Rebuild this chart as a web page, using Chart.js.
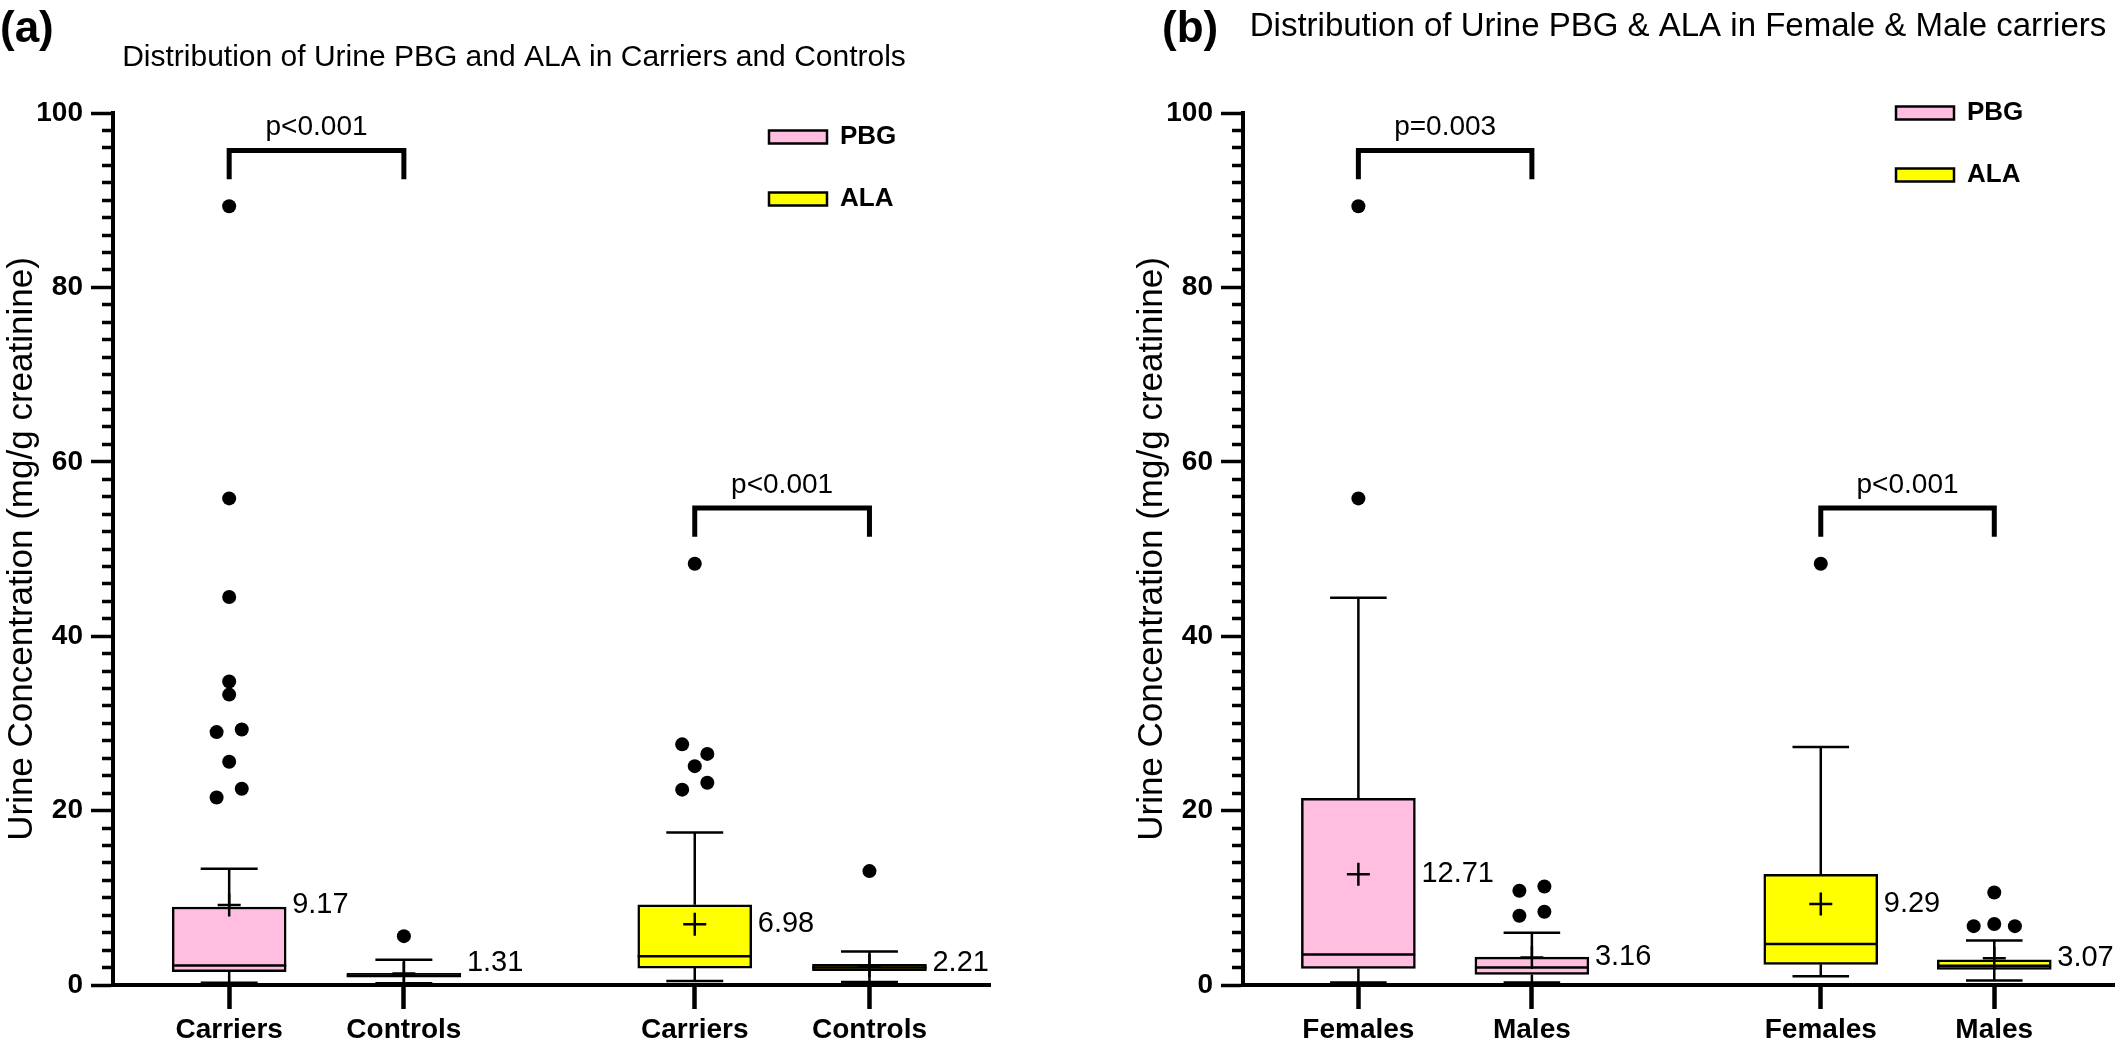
<!DOCTYPE html>
<html><head><meta charset="utf-8">
<script src="https://cdn.jsdelivr.net/npm/chart.js@4.4.1/dist/chart.umd.min.js"></script>
<style>
html,body{margin:0;padding:0;background:#fff;width:2128px;height:1048px;overflow:hidden}
canvas{position:absolute;top:0}
#ca{left:0}
#cb{left:1130px}
</style></head><body>
<canvas id="ca" width="1130" height="1048"></canvas>
<canvas id="cb" width="998" height="1048"></canvas>
<script>
// ---------------- DATA ----------------
const catsA = ['Carriers', 'Controls', 'Carriers', 'Controls'];
const catsB = ['Females', 'Males', 'Females', 'Males'];
const seriesNames = ['PBG', 'ALA'];

// five-number summaries: [min, q1, median, q3, max]
const A_PBG_five = [[0.27, 1.53, 2.25, 8.94, 13.34], [0.2, 0.9, 1.1, 1.35, 2.9]];
const A_PBG_mean = [9.17, 1.31];
const A_PBG_out  = [[89.3, 55.8, 44.5, 34.8, 33.3, 29.3, 29.0, 25.6, 22.5, 21.5], [5.6]];
const A_ALA_five = [[0.47, 1.94, 3.29, 9.19, 17.5], [0.35, 1.63, 2.0, 2.36, 3.84]];
const A_ALA_mean = [6.98, 2.21];
const A_ALA_out  = [[48.3, 27.6, 26.5, 25.1, 23.2, 22.4], [13.06]];
const A_pvals    = ['p<0.001', 'p<0.001'];

const B_PBG_five = [[0.28, 1.9, 3.5, 21.4, 44.4], [0.28, 1.2, 2.0, 3.2, 6.0]];
const B_PBG_mean = [12.71, 3.16];
const B_PBG_out  = [[89.3, 55.8], [11.3, 10.8, 8.4, 7.95]];
const B_ALA_five = [[1.0, 2.37, 4.7, 12.7, 27.3], [0.52, 1.8, 2.2, 2.9, 5.1]];
const B_ALA_mean = [9.29, 3.07];
const B_ALA_out  = [[48.3], [10.6, 7.0, 6.75, 6.75]];
const B_pvals    = ['p=0.003', 'p<0.001'];

const Y_MIN = 0, Y_MAX = 100, Y_MAJOR = 20, Y_MINOR = 2;

// ---------------- LAYOUT / STYLE ----------------
const FONT = "'Liberation Sans', Arial, Helvetica, sans-serif";
const SLOT = [1, 2, 3.665, 4.665];     // x positions of the four boxes
const X_MIN = 0.335, X_MAX = 5.355;
const BOX_PX = 114;                    // box width in px
const BOX_HALF = 0.327;                // box half width, x units
const CAP_HALF = 0.163;                // whisker cap half width, x units
const SPREAD = 0.072;                  // outlier side spread, x units
const CLUSTER_GAP = 1.5;
const BRACKET_GAP = 6.4, BRACKET_LEG = 3.3;
const COLORS = {PBG: '#FFBEDF', ALA: '#FFFF00'};

function offs(c) {
  if (c.length === 1) return [0];
  if (c.length === 2) return [1, -1];
  if (c.length === 3) return (c[0] - c[2] < 0.6) ? [0, -1.65, 1.65] : [-1, 1, 0];
  return c.map((_, k) => (k % 2 ? 1 : -1) * Math.ceil((k + 1) / 2));
}
function outlierPoints(x, vals) {
  const s = vals.slice().sort((a, b) => b - a); const pts = []; let i = 0;
  while (i < s.length) {
    let j = i + 1;
    while (j < s.length && s[j - 1] - s[j] < CLUSTER_GAP) j++;
    const c = s.slice(i, j);
    offs(c).forEach((o, k) => pts.push({x: x + o * SPREAD, y: c[k]}));
    i = j;
  }
  return pts;
}

function seriesDatasets(name, slots, five, mean, out) {
  const xs = slots.map(k => SLOT[k]);
  const ds = [];
  ds.push({type: 'bar', label: name, inLegend: true, means: mean, order: 3,
    data: xs.map((x, i) => ({x: x, y: [five[i][1], five[i][3]]})),
    backgroundColor: COLORS[name], borderColor: '#000', borderWidth: 2.5, borderSkipped: false,
    barThickness: BOX_PX, grouped: false});
  const line = {type: 'line', order: 1, borderColor: '#000', borderWidth: 2.5, pointRadius: 0, spanGaps: false, fill: false};
  ds.push(Object.assign({}, line, {label: name + ' whiskers',
    data: xs.flatMap((x, i) => [{x, y: five[i][4]}, {x, y: five[i][3]}, {x, y: null}, {x, y: five[i][1]}, {x, y: five[i][0]}, {x, y: null}])}));
  ds.push(Object.assign({}, line, {label: name + ' caps',
    data: xs.flatMap((x, i) => [{x: x - CAP_HALF, y: five[i][4]}, {x: x + CAP_HALF, y: five[i][4]}, {x, y: null},
                                {x: x - CAP_HALF, y: five[i][0]}, {x: x + CAP_HALF, y: five[i][0]}, {x, y: null}])}));
  ds.push(Object.assign({}, line, {label: name + ' median',
    data: xs.flatMap((x, i) => [{x: x - BOX_HALF, y: five[i][2]}, {x: x + BOX_HALF, y: five[i][2]}, {x, y: null}])}));
  ds.push({type: 'scatter', label: name + ' mean', order: 1, pointStyle: 'cross', pointRadius: 11.5,
    borderColor: '#000', borderWidth: 2.5, data: xs.map((x, i) => ({x, y: mean[i]}))});
  ds.push({type: 'scatter', label: name + ' outliers', order: 0, pointRadius: 7, backgroundColor: '#000',
    borderWidth: 0, data: xs.flatMap((x, i) => outlierPoints(x, out[i]))});
  return ds;
}
function bracket(slots, fives, outs, p) {
  const vals = [];
  slots.forEach((k, i) => { vals.push(fives[i][4]); outs[i].forEach(v => vals.push(v)); });
  const top = Math.max(...vals) + BRACKET_GAP, leg = top - BRACKET_LEG;
  const a = SLOT[slots[0]], b = SLOT[slots[1]];
  return {type: 'line', label: 'bracket', order: 0, pText: p, borderColor: '#000', borderWidth: 5,
    pointRadius: 0, borderJoinStyle: 'miter', borderCapStyle: 'butt',
    data: [{x: a, y: leg}, {x: a, y: top}, {x: b, y: top}, {x: b, y: leg}]};
}

const annot = {
  id: 'annot',
  afterLayout(chart, args, o) {
    const lg = chart.legend; if (!lg) return;
    const pad = lg.options.labels.padding, fs = lg.options.labels.font.size;
    const w = lg.width, h = lg.height;
    lg.left = o.legendX - pad; lg.right = lg.left + w;
    lg.top = o.legendY - pad - fs / 2; lg.bottom = lg.top + h;
  },
  afterDraw(chart, args, o) {
    const ctx = chart.ctx, xs = chart.scales.x, ys = chart.scales.y, ca = chart.chartArea;
    ctx.save();
    ctx.fillStyle = '#000';
    // panel letter
    ctx.font = 'bold 44px ' + FONT; ctx.textAlign = 'left'; ctx.textBaseline = 'middle';
    ctx.fillText(o.letter, o.letterX, o.letterY);
    // title
    ctx.font = o.titleSize + 'px ' + FONT; ctx.textAlign = 'center';
    ctx.fillText(o.title, o.titleX, o.titleY);
    // mean labels
    ctx.font = '29px ' + FONT; ctx.textAlign = 'left'; ctx.textBaseline = 'middle';
    chart.data.datasets.forEach((d, di) => {
      if (!d.inLegend) return;
      const meta = chart.getDatasetMeta(di);
      meta.data.forEach((el, j) => {
        const y = Math.min(ys.getPixelForValue(d.means[j]), ca.bottom - 22);
        ctx.fillText(d.means[j].toFixed(2), el.x + el.width / 2 + 6, y);
      });
    });
    // p-values
    ctx.font = '28px ' + FONT; ctx.textAlign = 'center'; ctx.textBaseline = 'bottom';
    chart.data.datasets.forEach(d => {
      if (!d.pText) return;
      const xm = (xs.getPixelForValue(d.data[1].x) + xs.getPixelForValue(d.data[2].x)) / 2;
      ctx.fillText(d.pText, xm, ys.getPixelForValue(d.data[1].y) - 9);
    });
    ctx.restore();
  }
};

function makeChart(id, cats, datasets, padRight, o) {
  return new Chart(document.getElementById(id), {
    type: 'scatter',
    data: {datasets},
    plugins: [annot],
    options: {
      responsive: false, devicePixelRatio: 1, animation: false, events: [],
      layout: {padding: {left: 0, right: padRight, top: 113, bottom: 0}},
      plugins: {
        tooltip: {enabled: false}, title: {display: false},
        legend: {position: 'chartArea', align: 'start',
          labels: {boxWidth: 58, boxHeight: 13, padding: 36, color: '#000',
            font: {family: FONT, size: 26, weight: 'bold'},
            filter: (item, data) => !!data.datasets[item.datasetIndex].inLegend}},
        annot: o
      },
      scales: {
        x: {type: 'linear', min: X_MIN, max: X_MAX, offset: false,
          border: {display: true, color: '#000', width: 4},
          grid: {drawOnChartArea: false, offset: false, drawTicks: true, tickLength: 24, tickWidth: 4.5, tickColor: '#000'},
          afterBuildTicks: s => { s.ticks = SLOT.map(v => ({value: v})); },
          afterFit: s => { s.height = 63; },
          ticks: {autoSkip: false, maxRotation: 0, color: '#000', padding: 4,
            font: {family: FONT, size: 28, weight: 'bold'}, callback: (v, i) => cats[i]}},
        y: {type: 'linear', min: Y_MIN, max: Y_MAX, position: 'left',
          border: {display: true, color: '#000', width: 4},
          grid: {drawOnChartArea: false, drawTicks: true, tickLength: 22, tickColor: '#000', tickWidth: 3.5,
            tickBorderDash: c => (c.tick && c.tick.value % Y_MAJOR === 0) ? [] : [0, 11, 12, 100]},
          afterFit: s => { s.width = 113; },
          ticks: {stepSize: Y_MINOR, autoSkip: false, color: '#000', padding: 8,
            font: {family: FONT, size: 28, weight: 'bold'},
            callback: v => (v % Y_MAJOR === 0 ? String(v) : '')},
          title: {display: true, text: 'Urine Concentration (mg/g creatinine)', color: '#000',
            font: {family: FONT, size: 35}, padding: {top: 1, bottom: 0}}}
      }
    }
  });
}

const dsA = [].concat(
  [bracket([0, 1], A_PBG_five, A_PBG_out, A_pvals[0]), bracket([2, 3], A_ALA_five, A_ALA_out, A_pvals[1])],
  seriesDatasets(seriesNames[0], [0, 1], A_PBG_five, A_PBG_mean, A_PBG_out),
  seriesDatasets(seriesNames[1], [2, 3], A_ALA_five, A_ALA_mean, A_ALA_out));
const dsB = [].concat(
  [bracket([0, 1], B_PBG_five, B_PBG_out, B_pvals[0]), bracket([2, 3], B_ALA_five, B_ALA_out, B_pvals[1])],
  seriesDatasets(seriesNames[0], [0, 1], B_PBG_five, B_PBG_mean, B_PBG_out),
  seriesDatasets(seriesNames[1], [2, 3], B_ALA_five, B_ALA_mean, B_ALA_out));

makeChart('ca', catsA, dsA, 140, {letter: '(a)', letterX: 0, letterY: 30,
  title: 'Distribution of Urine PBG and ALA in Carriers and Controls', titleSize: 30, titleX: 514, titleY: 58,
  legendX: 769, legendY: 137});
makeChart('cb', catsB, dsB, 10, {letter: '(b)', letterX: 32, letterY: 30,
  title: 'Distribution of Urine PBG & ALA in Female & Male carriers', titleSize: 33, titleX: 548, titleY: 27,
  legendX: 766, legendY: 113});
</script>
</body></html>
